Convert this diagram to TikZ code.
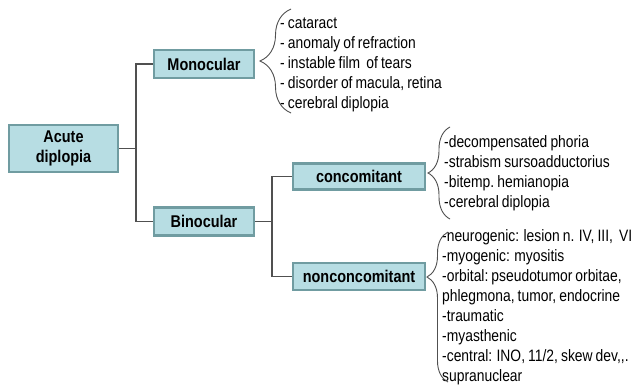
\documentclass[tikz,border=0pt]{standalone}
\usepackage{fontspec}
\usepackage{xcolor}
\usepackage{tikz}
\newfontfamily\boxfont{Liberation Sans}[FakeStretch=0.85]
\newfontfamily\listfont{Liberation Sans}[FakeStretch=0.84, WordSpace=0.8]
\usetikzlibrary{positioning,calc,decorations.pathreplacing}

\definecolor{boxfill}{RGB}{183,221,227}
\definecolor{boxedge}{RGB}{112,156,161}
\definecolor{linegray}{RGB}{80,80,80}

\begin{document}
\begin{tikzpicture}[x=1pt, y=-1pt,
    catbox/.style={draw=boxedge, fill=boxfill, line width=2.2pt, inner sep=0pt, align=center,
        font=\boxfont\bfseries\fontsize{17}{20}\selectfont},
    link/.style={draw=linegray, line width=1.3pt},
    listtext/.style={anchor=west, inner sep=0pt, align=left,
        font=\listfont\fontsize{16.5}{20}\selectfont},
    bracket/.style={draw=linegray, line width=0.9pt, decorate,
        decoration={brace, amplitude=#1}}]
    \useasboundingbox (0,0) rectangle (636,391);

    % Category boxes
    \node [catbox, minimum width=109, minimum height=47] (acute) at (63.5,148.5) {Acute\\diplopia};
    \node [catbox, minimum width=100, minimum height=28] (mono) at (204,64) {Monocular};
    \node [catbox, minimum width=100, minimum height=28] (bino) at (204,221.5) {Binocular};
    \node [catbox, minimum width=132, minimum height=26] (conc) at (359,176.5) {concomitant};
    \node [catbox, minimum width=132, minimum height=27] (nonconc) at (359,276.5) {nonconcomitant};

    % Tree lines
    \draw [link] (acute.east) -- ++(17,0) coordinate (split);
    \draw [link] (mono.west) -| (split) |- (bino.west);
    \draw [link] (bino.east) -- ++(17,0) coordinate (split2);
    \draw [link] (conc.west) -| (split2) |- (nonconc.west);

    % Monocular causes
    \node [listtext] (monolist) at (280,65) {- cataract\\- anomaly of refraction\\- instable film\ \ of tears\\- disorder of macula, retina\\- cerebral diplopia};
    \draw [bracket=31pt] (291,113) -- (291,9);

    % Concomitant causes
    \node [listtext] (conclist) at (444,173.5) {-decompensated phoria\\-strabism sursoadductorius\\-bitemp.\ hemianopia\\-cerebral diplopia};
    \draw [bracket=22pt] (450,219) -- (450,127);

    % Nonconcomitant causes
    \node [listtext] (nonconclist) at (442,307.5) {-neurogenic: lesion n. IV, III,\ \ VI\\-myogenic: myositis\\-orbital:\ pseudotumor orbitae,\\phlegmona, tumor, endocrine\\-traumatic\\-myasthenic\\-central: INO,\ 11/2, skew dev,,.\\supranuclear};
    \draw [bracket=21pt, decoration={aspect=0.7}] (448,382) -- (448,232);
\end{tikzpicture}
\end{document}
